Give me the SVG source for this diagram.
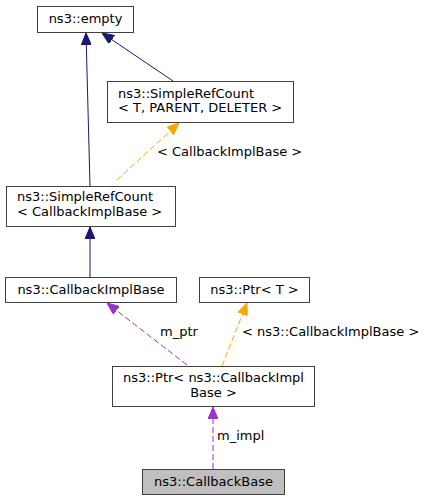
<svg xmlns="http://www.w3.org/2000/svg" width="425" height="501" viewBox="0 0 425 501">
<style>
.box{fill:#ffffff;stroke:#404040;stroke-width:1}
.hl{fill:#bfbfbf;stroke:#404040;stroke-width:1}
text{font-family:"DejaVu Sans",sans-serif;font-size:13px;fill:#000}
.m{text-anchor:middle}
.nav{stroke:#191970;fill:none}
.org{stroke:#ffa500;fill:none;stroke-dasharray:6,3}
.pur{stroke:#9a32cd;fill:none;stroke-dasharray:6,3}
</style>
<defs>
<marker id="an" viewBox="0 0 12 10" refX="12" refY="5" markerWidth="12" markerHeight="10" markerUnits="userSpaceOnUse" orient="auto"><path d="M0,0L12,5L0,10Z" fill="#191970" stroke="#191970"/></marker>
<marker id="ao" viewBox="0 0 12 10" refX="12" refY="5" markerWidth="12" markerHeight="10" markerUnits="userSpaceOnUse" orient="auto"><path d="M0,0L12,5L0,10Z" fill="#ffa500" stroke="#ffa500"/></marker>
<marker id="ap" viewBox="0 0 12 10" refX="12" refY="5" markerWidth="12" markerHeight="10" markerUnits="userSpaceOnUse" orient="auto"><path d="M0,0L12,5L0,10Z" fill="#9a32cd" stroke="#9a32cd"/></marker>
</defs>
<g id="edges">
<path class="nav" d="M90,186L86,33" marker-end="url(#an)"/>
<path class="nav" d="M173,81L102,33" marker-end="url(#an)"/>
<path class="org" d="M117,180L179,123" marker-end="url(#ao)"/>
<text x="157" y="156">&lt; CallbackImplBase &gt;</text>
<path class="nav" d="M90,277L90,227" marker-end="url(#an)"/>
<path class="pur" d="M187,365L107,303" marker-end="url(#ap)"/>
<text x="160" y="336">m_ptr</text>
<path class="org" d="M222,366L247,303" marker-end="url(#ao)"/>
<text x="242" y="336">&lt; ns3::CallbackImplBase &gt;</text>
<path class="pur" d="M213,469L213,407" marker-end="url(#ap)"/>
<text x="217" y="440">m_impl</text>
</g>
<g id="empty"><rect class="box" x="37.5" y="6.5" width="96" height="26"/><text class="m" x="85.5" y="23">ns3::empty</text></g>
<g id="srcT"><rect class="box" x="107.5" y="81.5" width="186" height="41"/><text x="118" y="98">ns3::SimpleRefCount</text><text x="118" y="112">&lt; T, PARENT, DELETER &gt;</text></g>
<g id="srcCIB"><rect class="box" x="6.5" y="186.5" width="169" height="40"/><text x="17" y="201">ns3::SimpleRefCount</text><text x="17" y="216">&lt; CallbackImplBase &gt;</text></g>
<g id="cib"><rect class="box" x="5.5" y="277.5" width="171" height="25"/><text class="m" x="91" y="294">ns3::CallbackImplBase</text></g>
<g id="ptrT"><rect class="box" x="199.5" y="277.5" width="110" height="25"/><text class="m" x="254.5" y="294">ns3::Ptr&lt; T &gt;</text></g>
<g id="ptrCIB"><rect class="box" x="112.5" y="366.5" width="202" height="40"/><text class="m" x="213.5" y="382">ns3::Ptr&lt; ns3::CallbackImpl</text><text class="m" x="213.5" y="397">Base &gt;</text></g>
<g id="cb"><rect class="hl" x="142.5" y="469.5" width="142" height="25"/><text class="m" x="213.5" y="486">ns3::CallbackBase</text></g>
</svg>
